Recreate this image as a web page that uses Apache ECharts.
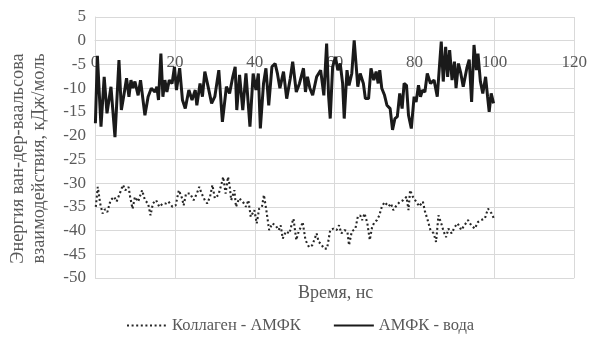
<!DOCTYPE html>
<html>
<head>
<meta charset="utf-8">
<script src="https://cdn.jsdelivr.net/npm/echarts@6/dist/echarts.min.js"></script>
<style>html,body{margin:0;padding:0;background:#fff}#c{width:590px;height:342px}</style>
</head>
<body>
<div id="c"></div>
<script>
const seriesNames = ["Коллаген - АМФК", "АМФК - вода"];
const xTicks = [0, 20, 40, 60, 80, 100, 120];
const yTicks = [5, 0, -5, -10, -15, -20, -25, -30, -35, -40, -45, -50];

const waterTime = [0.1,0.6,1.5,2.3,3.0,4.0,5.0,6.0,6.6,7.3,7.9,8.5,9.0,9.5,10.0,10.8,11.4,12.5,13.3,14.1,15.0,15.5,15.9,16.5,17.0,17.5,18.0,18.6,19.3,19.9,20.4,21.2,21.9,22.6,23.5,24.3,25.1,25.5,26.3,26.9,27.5,28.4,29.2,30.0,31.0,31.9,32.9,33.7,34.5,35.1,35.5,36.2,37.0,37.8,38.8,39.6,40.3,40.9,41.4,42.2,42.8,43.5,44.3,45.1,45.7,46.3,47.2,48.0,48.9,49.5,50.4,51.2,52.2,52.7,53.2,53.8,54.5,55.5,56.5,57.3,58.0,58.5,58.9,59.5,60.2,60.8,61.4,62.0,62.4,63.1,63.6,64.3,64.9,65.8,66.4,67.2,67.7,68.5,69.1,69.8,70.4,70.9,71.3,71.8,72.5,73.1,73.9,74.5,75.1,75.7,76.3,76.9,77.4,78.0,78.5,79.2,79.9,80.4,81.0,81.5,82.0,82.6,83.2,84.0,84.9,85.7,86.3,86.7,87.2,87.8,88.3,88.8,89.4,90.0,90.4,91.0,91.6,92.2,93.1,93.7,94.3,94.9,95.5,95.9,96.5,97.1,97.8,98.3,98.7,99.2,99.8];
const waterVal = [-17.4,-3.2,-18.1,-7.6,-15.3,-9.7,-20.3,-4.1,-14.6,-11.1,-7.9,-11.8,-8.3,-10.0,-8.6,-11.5,-8.3,-15.7,-11.8,-10.0,-10.8,-9.7,-12.5,-2.7,-11.8,-8.3,-10.8,-8.3,-9.0,-5.5,-10.4,-5.8,-12.5,-14.3,-10.4,-12.5,-10.4,-13.6,-9.0,-11.8,-6.5,-10.0,-13.2,-11.8,-6.2,-17.1,-9.7,-11.1,-7.6,-5.5,-14.6,-7.2,-14.6,-6.9,-18.1,-6.9,-10.4,-6.9,-18.5,-9.0,-5.8,-13.6,-5.5,-4.8,-7.0,-10.0,-6.5,-12.2,-7.9,-4.4,-10.8,-9.0,-5.8,-10.8,-7.6,-10.0,-11.5,-7.6,-6.2,-11.5,-0.6,-11.8,-16.4,-5.5,-3.4,-6.2,-4.8,-9.0,-16.4,-6.2,-9.4,-6.9,0.1,-9.7,-6.9,-9.0,-12.2,-12.2,-5.8,-8.3,-6.5,-9.0,-6.2,-10.0,-11.5,-13.6,-14.3,-18.8,-16.4,-16.0,-11.1,-14.3,-9.0,-9.4,-15.7,-18.5,-11.8,-12.9,-9.4,-11.8,-10.4,-10.8,-6.9,-9.0,-8.3,-11.8,-4.8,-0.2,-8.6,-1.3,-7.6,-2.0,-8.3,-4.4,-10.0,-4.8,-6.9,-9.7,-5.8,-4.0,-12.9,-0.9,-6.2,-2.7,-8.6,-11.1,-7.6,-11.8,-15.0,-11.1,-13.2];

const collTime = [0.2,0.7,1.3,1.9,2.5,3.1,3.9,4.8,5.4,6.2,7.0,7.6,8.4,8.8,9.4,10.0,10.8,11.8,12.5,13.3,13.9,14.5,15.3,16.1,17.0,17.8,18.4,19.4,20.2,21.0,21.8,22.2,22.8,23.8,24.7,25.5,26.1,26.7,27.5,28.1,28.8,29.4,30.0,30.9,31.7,32.1,32.7,33.3,33.7,34.1,34.9,35.3,36.1,37.0,37.8,38.4,39.0,39.9,40.5,41.1,41.8,42.3,42.9,43.6,44.4,45.2,46.0,46.5,47.0,47.8,48.7,49.3,49.7,50.4,51.0,51.6,52.0,52.7,53.6,54.4,55.5,56.0,56.6,57.3,58.1,58.9,59.7,60.5,61.1,61.7,62.5,63.2,63.6,64.3,65.2,65.8,66.4,66.9,67.5,68.2,68.8,69.4,70.0,70.6,71.2,71.8,72.5,73.5,74.1,74.7,75.5,76.3,77.2,78.0,78.5,78.9,79.6,80.4,81.2,82.1,82.6,83.3,84.0,84.8,85.4,86.0,86.7,87.3,87.9,88.5,89.3,90.1,90.8,91.7,92.5,93.4,94.2,95.1,95.9,96.7,97.6,98.4,99.3,99.9];
const collVal = [-35.0,-30.8,-34.3,-36.4,-35.5,-36.1,-33.6,-32.9,-33.9,-32.2,-30.4,-31.5,-30.8,-32.9,-35.4,-32.9,-33.9,-31.5,-33.6,-34.3,-36.8,-34.3,-33.6,-35.0,-34.3,-34.3,-33.9,-35.0,-34.7,-31.5,-33.2,-34.7,-32.2,-32.2,-33.6,-32.2,-30.8,-32.2,-33.6,-34.3,-32.9,-30.4,-33.2,-32.5,-30.1,-28.7,-32.2,-28.7,-30.4,-33.6,-31.5,-35.0,-33.2,-33.9,-35.0,-33.6,-37.1,-35.7,-38.5,-35.4,-35.0,-32.5,-35.7,-39.9,-38.5,-38.9,-39.9,-38.9,-41.7,-40.2,-40.6,-38.5,-37.5,-42.0,-40.2,-39.2,-38.2,-42.0,-43.5,-43.1,-40.6,-42.4,-42.8,-43.8,-43.8,-39.9,-39.6,-39.9,-38.9,-40.6,-39.9,-40.2,-43.1,-40.2,-39.6,-37.1,-36.8,-37.8,-36.4,-38.5,-42.0,-39.2,-38.2,-37.8,-36.8,-35.0,-34.0,-34.9,-34.3,-35.7,-34.7,-34.0,-33.6,-32.9,-35.7,-31.5,-32.9,-33.9,-34.9,-33.9,-35.9,-37.8,-39.9,-40.6,-42.4,-36.8,-38.5,-40.2,-41.4,-39.6,-40.6,-39.2,-38.5,-39.9,-38.9,-37.8,-38.9,-39.6,-38.2,-37.8,-37.5,-35.4,-36.4,-37.5];

const toPairs = (t, v) => t.map((x, i) => [x, v[i]]);
const FONT = 'Liberation Serif';
const GRID = '#d9d9d9';
const TXT = '#595959';
const gridTop = 17, gridBottom = 64, H = 342;
const yMin = yTicks[yTicks.length - 1], yMax = yTicks[0];
const plotH = H - gridTop - gridBottom;
// x axis crosses the value axis at 0: shift it up from the bottom edge
const xAxisShift = -((0 - yMin) / (yMax - yMin)) * plotH;

const chart = echarts.init(document.getElementById('c'), null, {renderer: 'canvas'});
chart.setOption({
  animation: false,
  backgroundColor: '#ffffff',
  grid: {left: 94, right: 13, top: gridTop, bottom: gridBottom, containLabel: false},
  xAxis: {
    type: 'value', min: xTicks[0], max: xTicks[xTicks.length - 1], interval: 20,
    position: 'bottom', offset: xAxisShift,
    axisLine: {show: true, onZero: false, lineStyle: {color: GRID, width: 1}},
    axisTick: {show: false},
    axisLabel: {margin: 13, color: TXT, fontFamily: FONT, fontSize: 17},
    splitLine: {show: true, lineStyle: {color: GRID, width: 1}}
  },
  yAxis: {
    type: 'value', min: yMin, max: yMax, interval: 5,
    name: 'Энергия ван-дер-ваальсова\nвзаимодействия, кДж/моль',
    nameLocation: 'middle', nameRotate: 90, nameGap: 46,
    nameTextStyle: {color: TXT, fontFamily: FONT, fontSize: 18.3, lineHeight: 20.5, padding: [0, 22, 0, 0]},
    axisLine: {show: true, onZero: false, lineStyle: {color: GRID, width: 1}},
    axisTick: {show: false},
    axisLabel: {margin: 9, color: TXT, fontFamily: FONT, fontSize: 17},
    splitLine: {show: true, lineStyle: {color: GRID, width: 1}}
  },
  graphic: [{
    type: 'text', left: 298, top: 284,
    style: {text: 'Время, нс', fill: TXT, font: '18px "Liberation Serif"'}
  }],
  legend: {
    bottom: 3, left: 121, itemGap: 32, itemWidth: 40, itemHeight: 12,
    itemStyle: {opacity: 0},
    textStyle: {color: TXT, fontFamily: FONT, fontSize: 16.5},
    data: seriesNames
  },
  series: [
    {
      name: seriesNames[0], type: 'line', symbol: 'none', showSymbol: false,
      data: toPairs(collTime, collVal),
      lineStyle: {color: '#262626', width: 2.1, type: [2, 2.6], cap: 'butt'},
      itemStyle: {color: '#262626'}
    },
    {
      name: seriesNames[1], type: 'line', symbol: 'none', showSymbol: false,
      data: toPairs(waterTime, waterVal),
      lineStyle: {color: '#1a1a1a', width: 3},
      itemStyle: {color: '#1a1a1a'}
    }
  ]
});
</script>
</body>
</html>
